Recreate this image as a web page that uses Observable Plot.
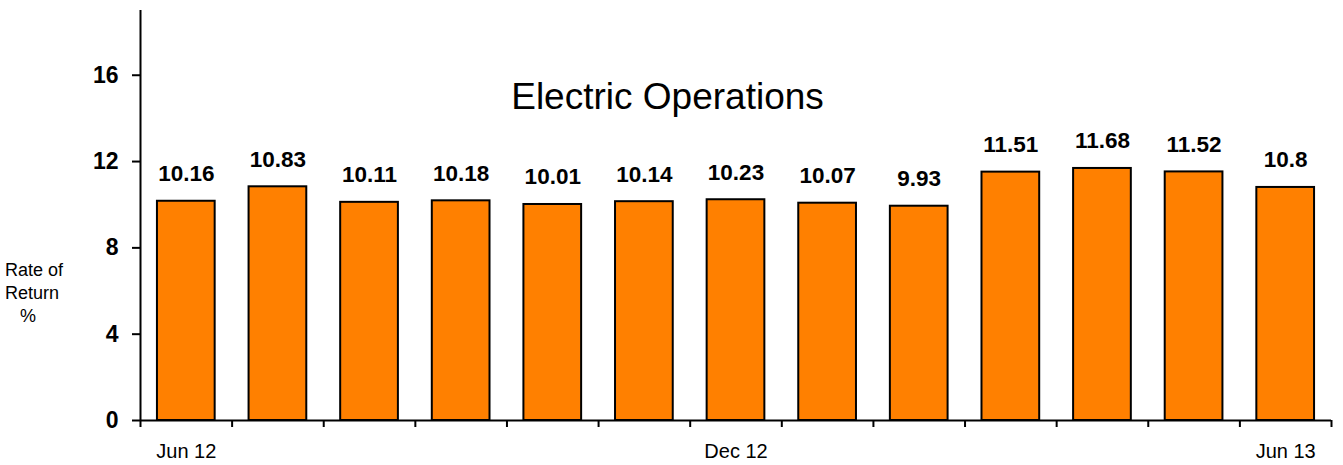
<!DOCTYPE html>
<html>
<head>
<meta charset="utf-8">
<script src="https://cdn.jsdelivr.net/npm/d3@7"></script>
<script src="https://cdn.jsdelivr.net/npm/@observablehq/plot@0.6"></script>
<style>
  body { margin: 0; background: #fff; }
  #wrap { position: relative; width: 1343px; height: 465px; font-family: "Liberation Sans", Arial, sans-serif; }
  #ylab { position: absolute; left: 5px; top: 259px; font-size: 18px; line-height: 23px; color: #000; white-space: pre; z-index: 2; }
</style>
</head>
<body>
<div id="wrap">
  <div id="ylab">Rate of
Return
   %</div>
</div>
<script>
const periods = ["Jun 12","Jul 12","Aug 12","Sep 12","Oct 12","Nov 12","Dec 12","Jan 13","Feb 13","Mar 13","Apr 13","May 13","Jun 13"];
const values = [10.16, 10.83, 10.11, 10.18, 10.01, 10.14, 10.23, 10.07, 9.93, 11.51, 11.68, 11.52, 10.8];
const labels = ["10.16","10.83","10.11","10.18","10.01","10.14","10.23","10.07","9.93","11.51","11.68","11.52","10.8"];
const shownTicks = {"Jun 12": "Jun 12", "Dec 12": "Dec 12", "Jun 13": "Jun 13"};
const yTicks = [0, 4, 8, 12, 16];
const title = "Electric Operations";

const data = periods.map((p, i) => ({period: p, value: values[i], label: labels[i]}));

const W = 1343, H = 465, ML = 140, MR = 12, MT = 10, MB = 45;
const step = (W - ML - MR) / periods.length;
const font = "'Liberation Sans', Arial, sans-serif";

const chart = Plot.plot({
  width: W,
  height: H,
  marginLeft: ML,
  marginRight: MR,
  marginTop: MT,
  marginBottom: MB,
  style: {fontFamily: font, background: "#fff", color: "#000"},
  x: {domain: periods, paddingInner: 0.37, paddingOuter: 0.185, round: false},
  y: {domain: [0, 19]},
  marks: [
    Plot.barY(data, {x: "period", y: "value", fill: "#FF8000", stroke: "#000", strokeWidth: 2}),
    Plot.text(data, {x: "period", y: "value", text: "label", lineAnchor: "bottom", dy: -20,
      fontSize: 22.5, fontWeight: "bold", fill: "#000"}),
    Plot.ruleY([0], {stroke: "#000", strokeWidth: 2}),
    Plot.ruleX([periods[0]], {x: d => d, y1: 0, y2: 19, dx: -step / 2, stroke: "#000", strokeWidth: 2}),
    Plot.axisY({ticks: yTicks, tickSize: 8, tickPadding: 14, strokeWidth: 2,
      fontSize: 23, fontWeight: "bold", label: null}),
    Plot.axisX({ticks: periods, tickFormat: () => "", tickSize: 7, strokeWidth: 2, dx: -step / 2, label: null}),
    Plot.axisX({ticks: [periods[periods.length - 1]], tickFormat: () => "", tickSize: 7, strokeWidth: 2, dx: step / 2, label: null}),
    Plot.axisX({ticks: periods, tickFormat: d => shownTicks[d] || "", tickSize: 0, tickPadding: 23,
      fontSize: 20, label: null}),
    Plot.text([title], {frameAnchor: "top", dx: 667 - (ML + (W - ML - MR) / 2), dy: 87,
      lineAnchor: "middle", fontSize: 37, fill: "#000"})
  ]
});
document.getElementById("wrap").appendChild(chart);
chart.style.position = "absolute";
chart.style.left = "0";
chart.style.top = "0";
</script>
</body>
</html>
